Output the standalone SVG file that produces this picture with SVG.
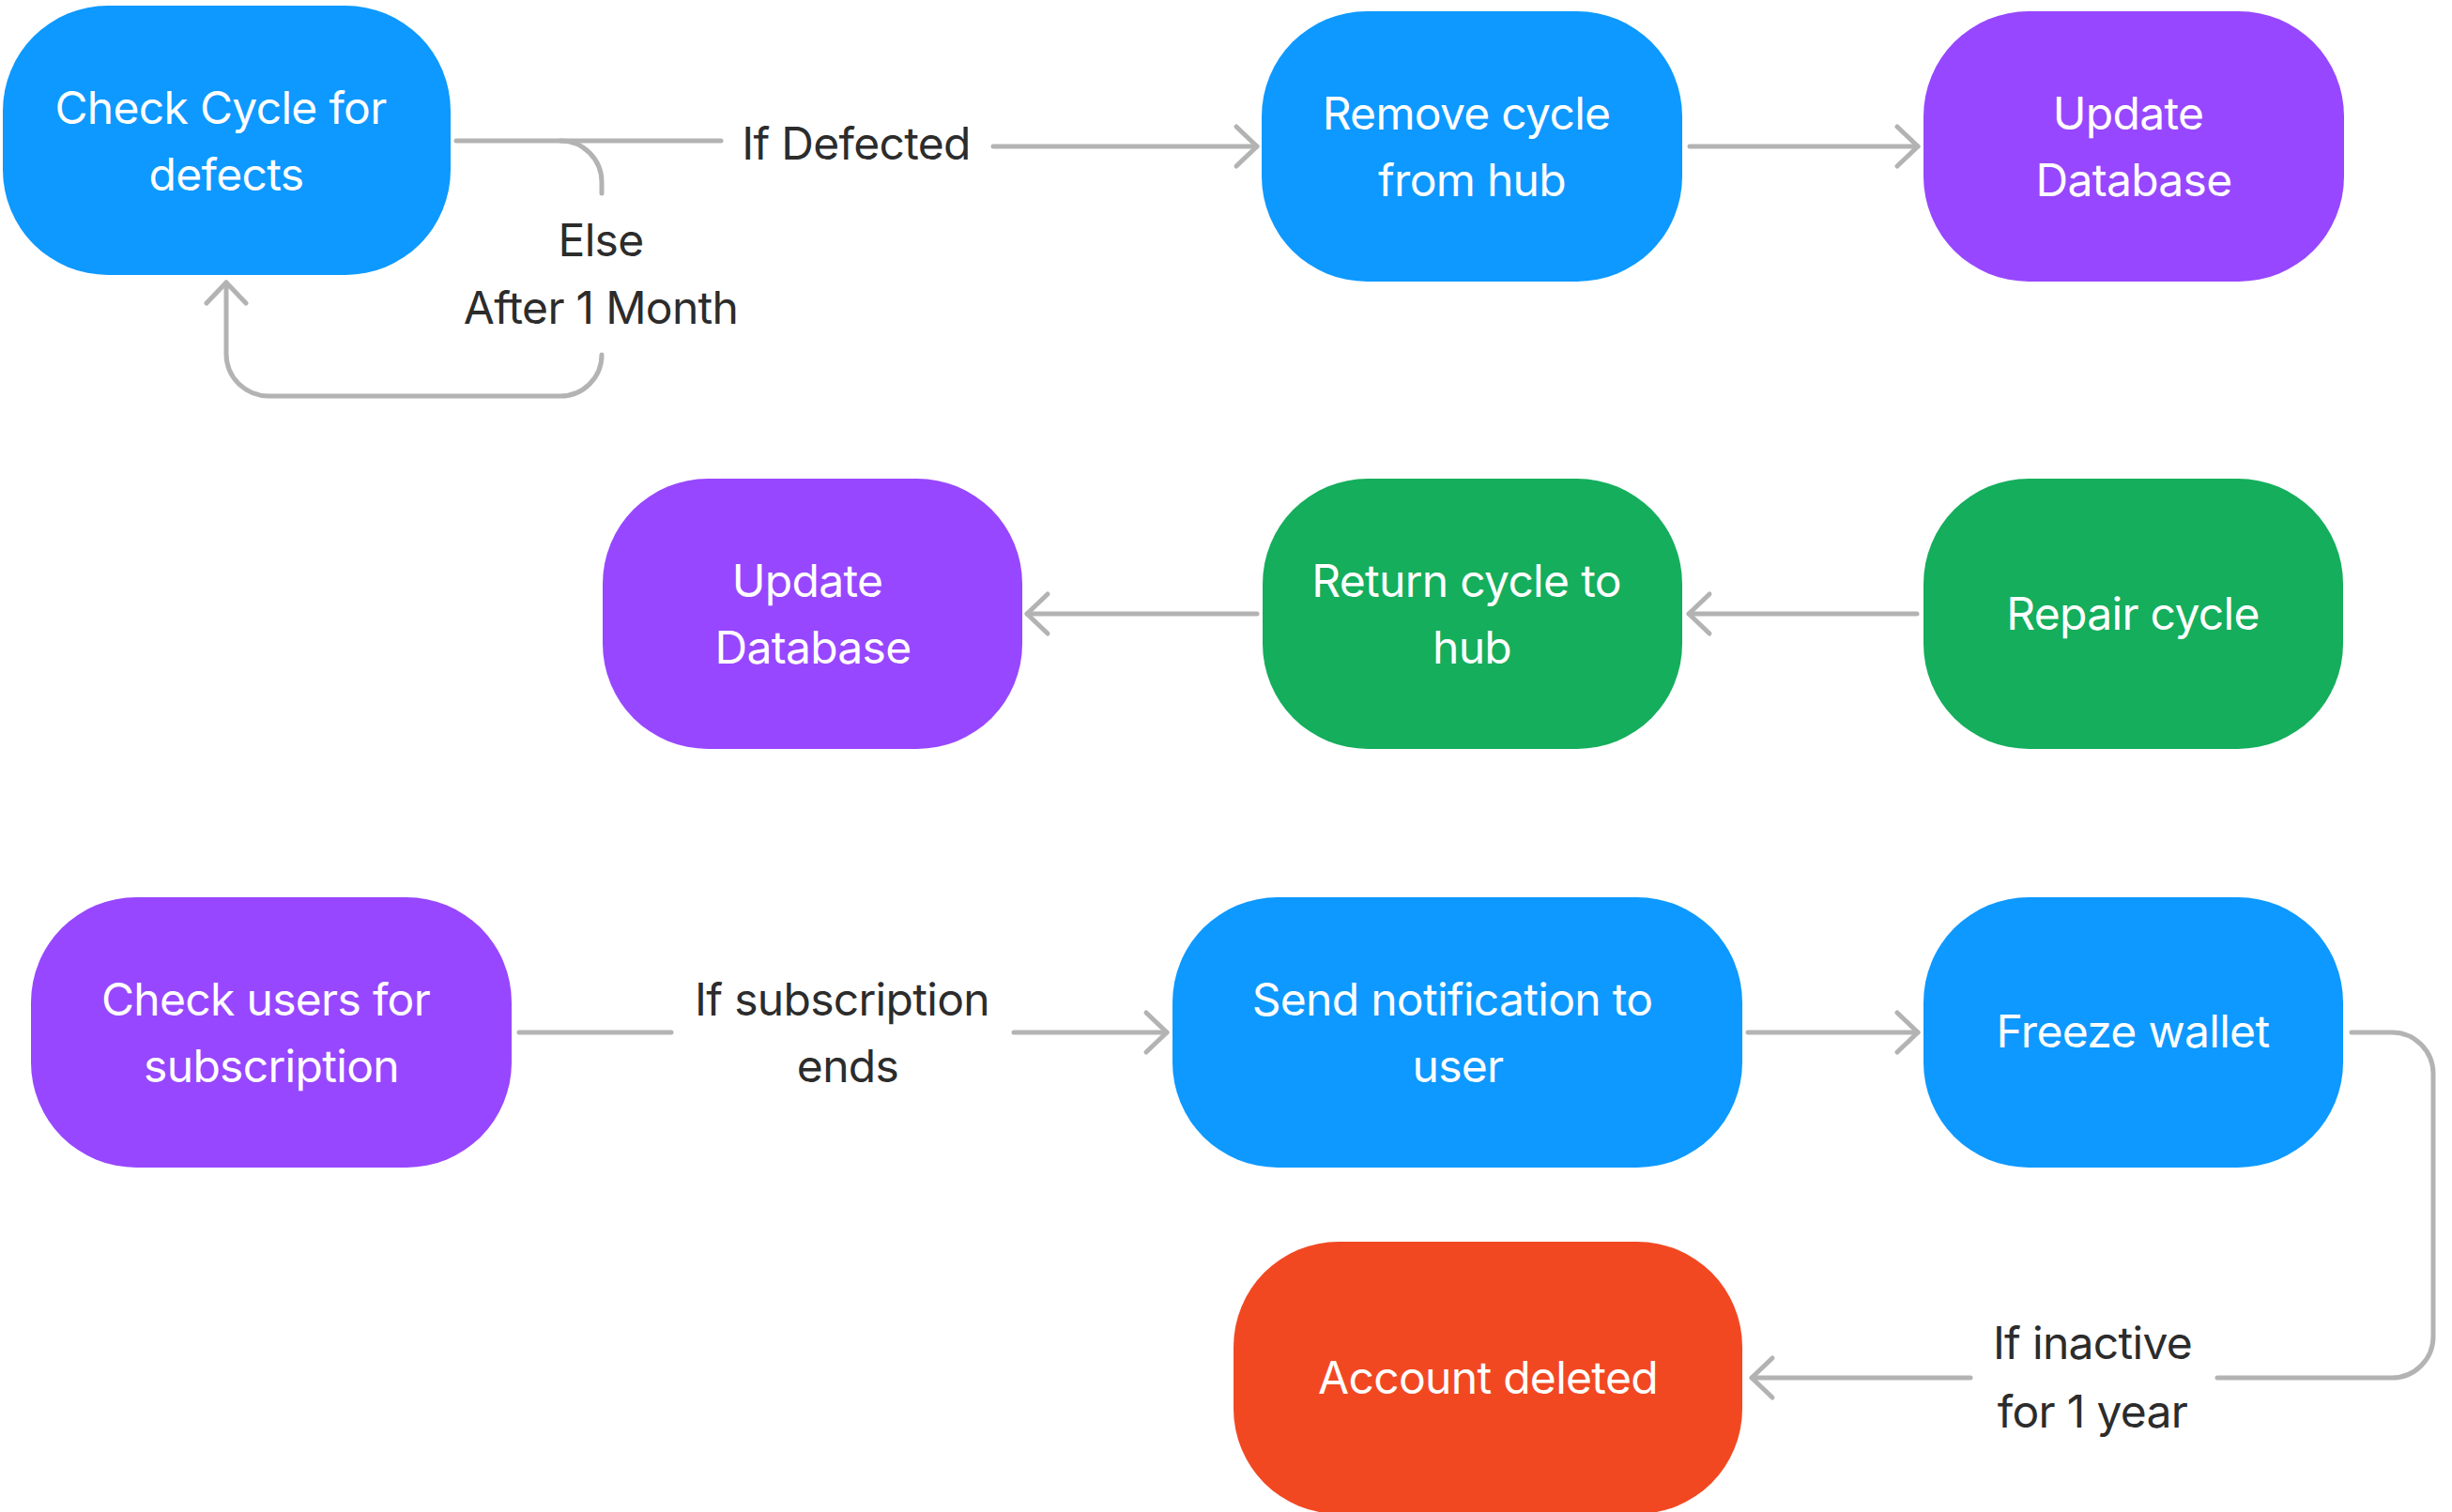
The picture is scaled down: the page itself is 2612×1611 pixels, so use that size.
<svg xmlns="http://www.w3.org/2000/svg" width="2612" height="1611" viewBox="0 0 2612 1611">
<defs>
<style>
.blue{fill:#0D99FF}
.purple{fill:#9747FF}
.green{fill:#14AE5C}
.red{fill:#F24822}
.nt{font-family:Inter,"Liberation Sans",sans-serif;font-size:48px;font-weight:400;letter-spacing:-0.7px;fill:#FFFFFF;text-anchor:middle}
.lt{font-family:Inter,"Liberation Sans",sans-serif;font-size:48px;font-weight:400;letter-spacing:-0.7px;fill:#2C2C2C;text-anchor:middle}
.c{fill:none;stroke:#B3B3B3;stroke-width:5;stroke-linecap:round;stroke-linejoin:round}
</style>
<marker id="arr" markerUnits="userSpaceOnUse" markerWidth="60" markerHeight="60" viewBox="-30 -30 60 60" refX="0" refY="0" orient="auto">
<path d="M -22 -21 L 0 0 L -22 21" fill="none" stroke="#B3B3B3" stroke-width="5" stroke-linecap="round" stroke-linejoin="round"/>
</marker>
</defs>
<rect width="2612" height="1611" fill="#FFFFFF"/>
<g id="connectors">
<path class="c" d="M 486 150 L 768 150"/>
<path class="c" d="M 1058 156 L 1339 156" marker-end="url(#arr)"/>
<path class="c" d="M 597 150 A 44 44 0 0 1 641 194 L 641 206"/>
<path class="c" d="M 641 378 A 44 44 0 0 1 597 422 L 286 422 A 45 45 0 0 1 241 377 L 241 301" marker-end="url(#arr)"/>
<path class="c" d="M 1800 156 L 2043 156" marker-end="url(#arr)"/>
<path class="c" d="M 2042 654 L 1799 654" marker-end="url(#arr)"/>
<path class="c" d="M 1339 654 L 1094 654" marker-end="url(#arr)"/>
<path class="c" d="M 553 1100 L 715 1100"/>
<path class="c" d="M 1080 1100 L 1243 1100" marker-end="url(#arr)"/>
<path class="c" d="M 1862 1100 L 2043 1100" marker-end="url(#arr)"/>
<path class="c" d="M 2505 1100 L 2548 1100 A 44 44 0 0 1 2592 1144 L 2592 1424 A 44 44 0 0 1 2548 1468 L 2362 1468"/>
<path class="c" d="M 2099 1468 L 1866 1468" marker-end="url(#arr)"/>
<text class="lt" x="912" y="170">If Defected</text>
<text class="lt" x="640" y="273">Else</text>
<text class="lt" x="640" y="345">After 1 Month</text>
<text class="lt" x="897" y="1082">If subscription</text>
<text class="lt" x="903" y="1153">ends</text>
<text class="lt" x="2229" y="1448">If inactive</text>
<text class="lt" x="2229" y="1521">for 1 year</text>
</g>
<g id="n1">
<rect class="blue" x="3" y="6" width="477" height="287" rx="112" ry="112"/>
<text class="nt" x="235" y="132">Check Cycle for</text>
<text class="nt" x="241" y="203">defects</text>
</g>
<g id="n2">
<rect class="blue" x="1344" y="12" width="448" height="288" rx="112" ry="112"/>
<text class="nt" x="1562" y="138">Remove cycle</text>
<text class="nt" x="1568" y="209">from hub</text>
</g>
<g id="n3">
<rect class="purple" x="2049" y="12" width="448" height="288" rx="112" ry="112"/>
<text class="nt" x="2267" y="138">Update</text>
<text class="nt" x="2273" y="209">Database</text>
</g>
<g id="n4">
<rect class="purple" x="642" y="510" width="447" height="288" rx="112" ry="112"/>
<text class="nt" x="860" y="636">Update</text>
<text class="nt" x="866" y="707">Database</text>
</g>
<g id="n5">
<rect class="green" x="1345" y="510" width="447" height="288" rx="112" ry="112"/>
<text class="nt" x="1562" y="636">Return cycle to</text>
<text class="nt" x="1568" y="707">hub</text>
</g>
<g id="n6">
<rect class="green" x="2049" y="510" width="447" height="288" rx="112" ry="112"/>
<text class="nt" x="2272" y="671">Repair cycle</text>
</g>
<g id="n7">
<rect class="purple" x="33" y="956" width="512" height="288" rx="112" ry="112"/>
<text class="nt" x="283" y="1082">Check users for</text>
<text class="nt" x="289" y="1153">subscription</text>
</g>
<g id="n8">
<rect class="blue" x="1249" y="956" width="607" height="288" rx="112" ry="112"/>
<text class="nt" x="1547" y="1082">Send notification to</text>
<text class="nt" x="1553" y="1153">user</text>
</g>
<g id="n9">
<rect class="blue" x="2049" y="956" width="447" height="288" rx="112" ry="112"/>
<text class="nt" x="2272" y="1116">Freeze wallet</text>
</g>
<g id="n10">
<rect class="red" x="1314" y="1323" width="542" height="290" rx="112" ry="112"/>
<text class="nt" x="1585" y="1485">Account deleted</text>
</g>
</svg>
